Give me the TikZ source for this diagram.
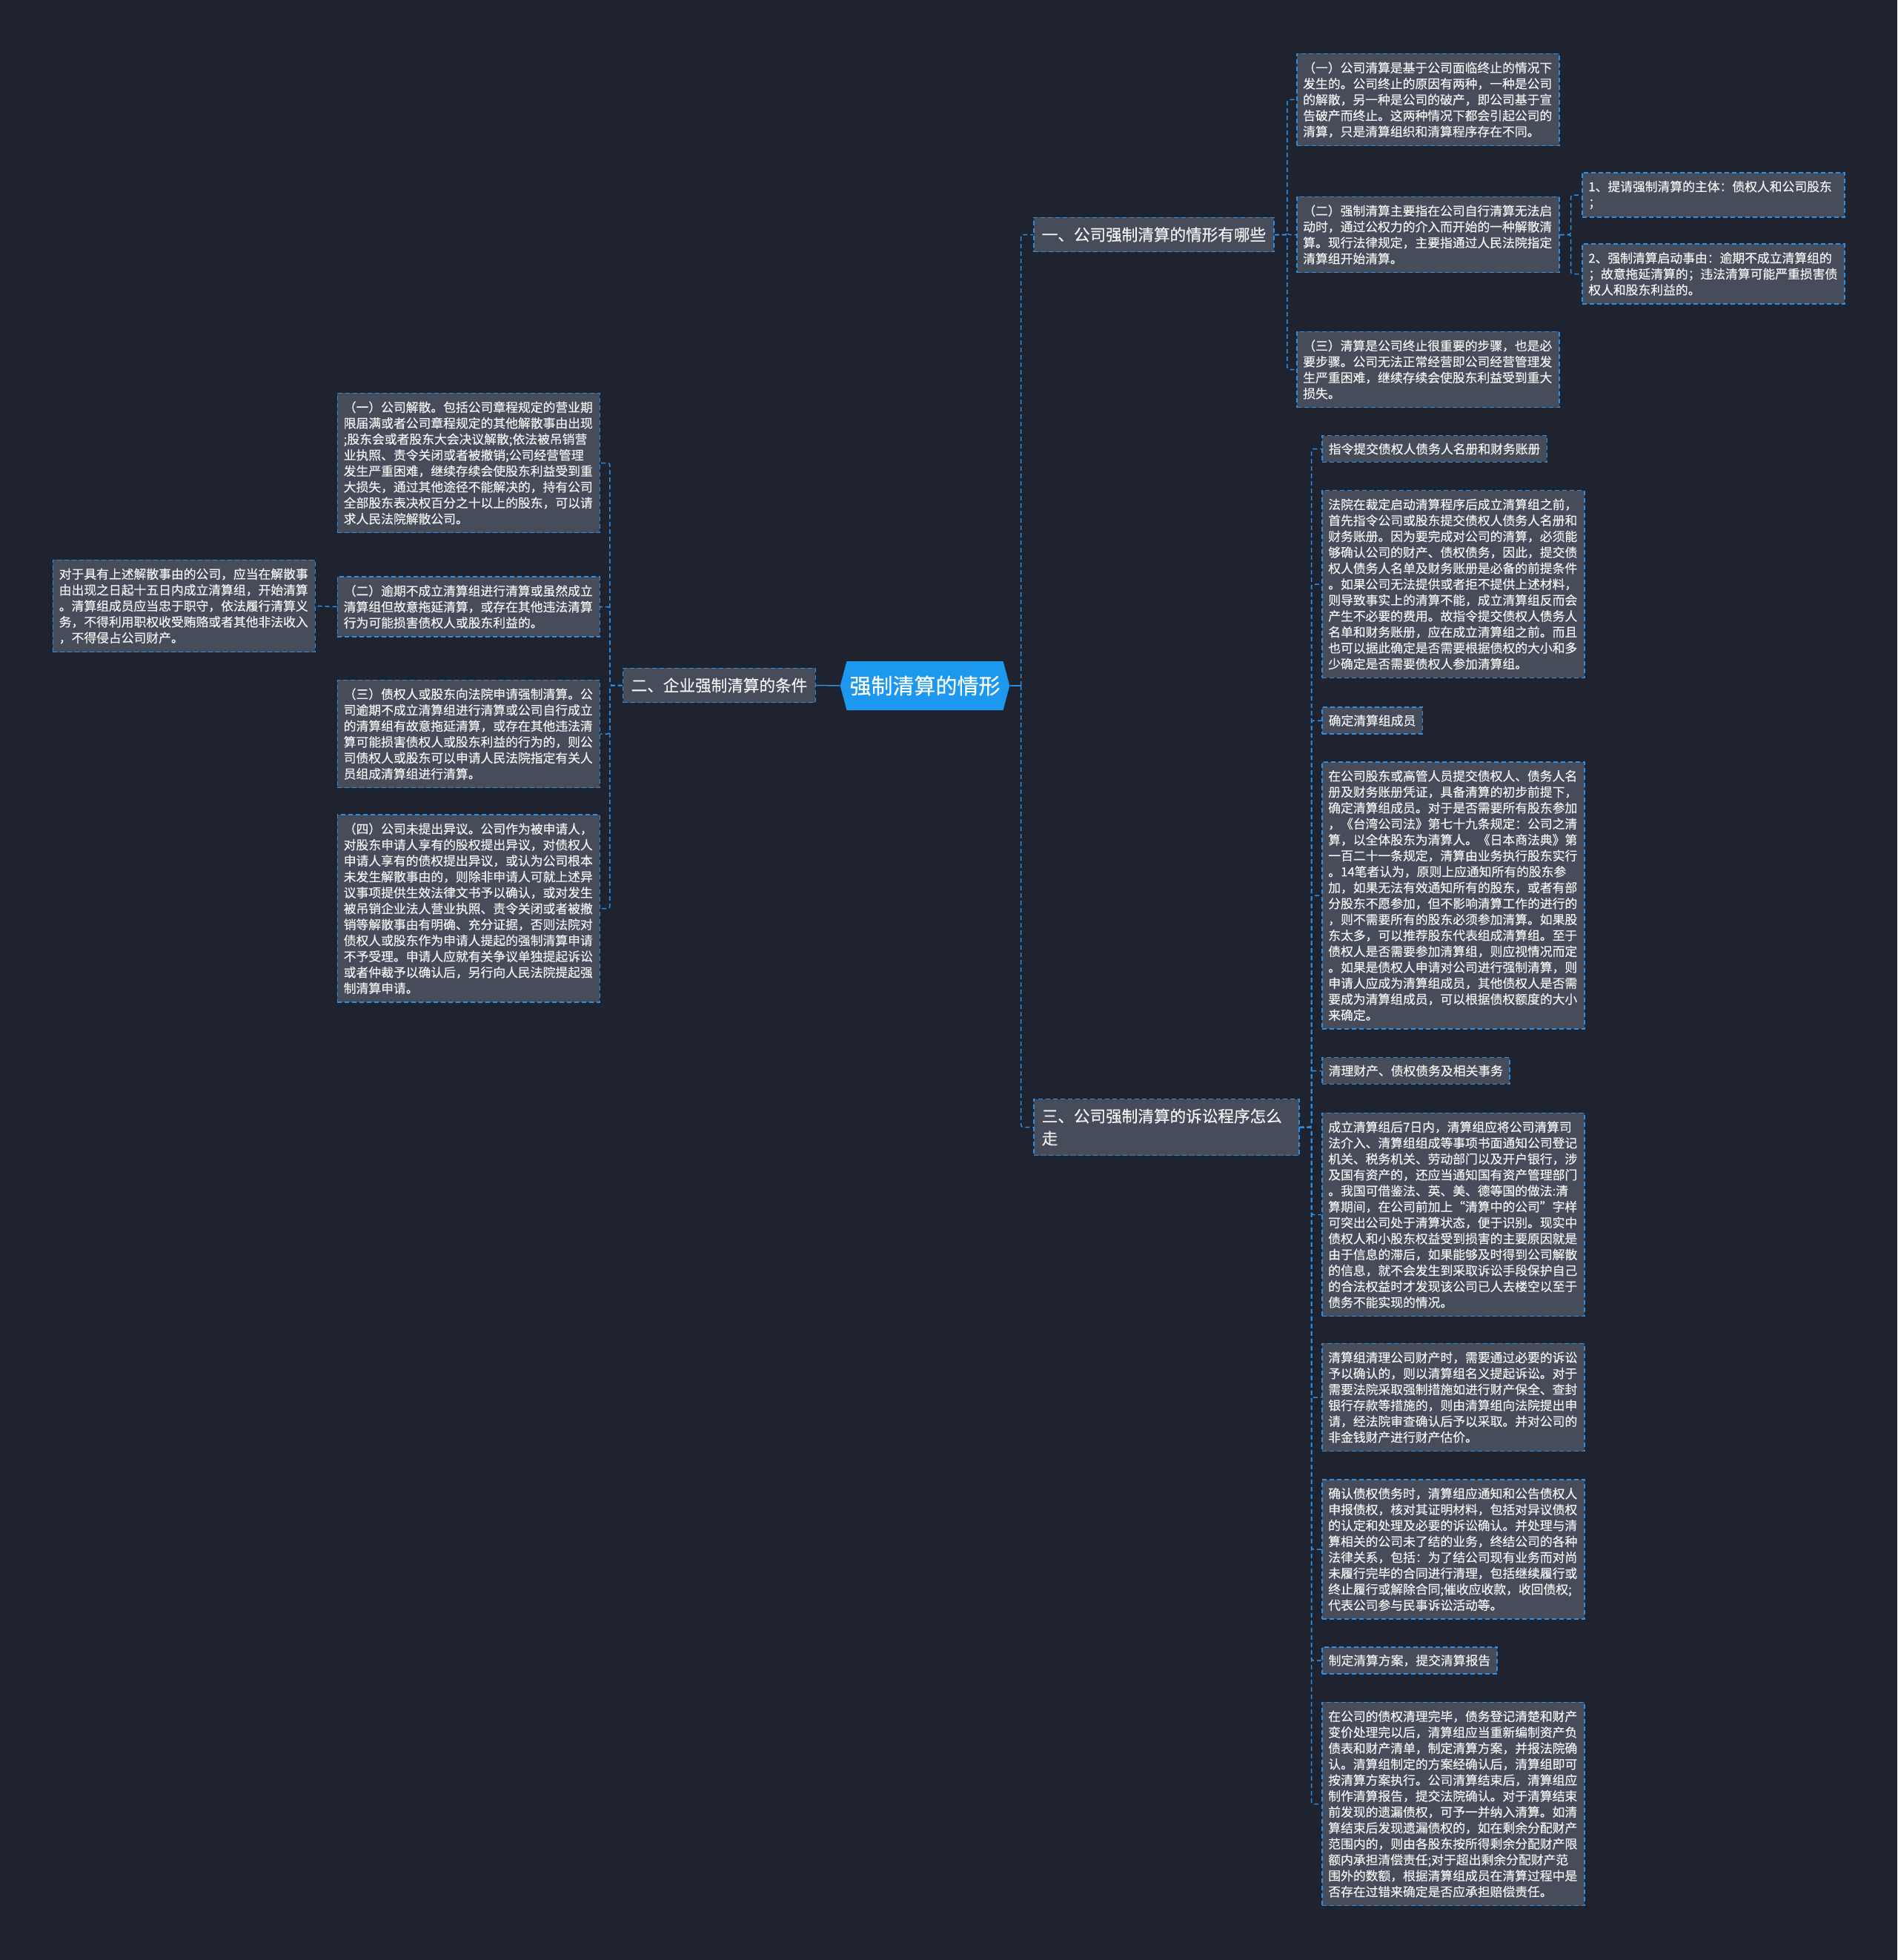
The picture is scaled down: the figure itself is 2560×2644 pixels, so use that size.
\documentclass[tikz,border=0pt]{standalone}
\usepackage{fontspec}
\setmainfont{Noto Sans CJK SC}[FakeBold=0.4]
\usepackage{tikz}
\usetikzlibrary{positioning}
\usetikzlibrary{shapes.symbols}

\definecolor{bgdark}{HTML}{1F2330}
\definecolor{boxfill}{HTML}{464C5A}
\definecolor{linkblue}{HTML}{2B8DE3}
\definecolor{rootblue}{HTML}{1C98EE}
\definecolor{textwhite}{HTML}{F2F2F2}

\begin{document}
\begin{tikzpicture}[
            x=1pt, y=-1pt,
            rootnode/.style={signal, signal to=east and west, signal pointer angle=150, fill=rootblue, text=white, font=\fontsize{29}{34}\selectfont, minimum height=66pt, inner xsep=4pt, inner ysep=0pt},
            branchnode/.style={rectangle, draw=linkblue, fill=boxfill, dash pattern=on 6pt off 4pt, line width=1.5pt, text=textwhite, font=\fontsize{21.6}{30}\selectfont, inner xsep=11pt, inner ysep=13pt},
            textnode/.style={rectangle, draw=linkblue, fill=boxfill, dash pattern=on 6pt off 4pt, line width=1.5pt, text=textwhite, font=\fontsize{16.8}{21.5}\selectfont, align=left, text width=337pt, inner xsep=8.5pt, inner ysep=11pt},
            labelnode/.style={rectangle, draw=linkblue, fill=boxfill, dash pattern=on 6pt off 4pt, line width=1.5pt, text=textwhite, font=\fontsize{16.8}{21.5}\selectfont, inner xsep=9pt, inner ysep=10pt, anchor=west},
            link/.style={draw=linkblue, line width=1.5pt, dash pattern=on 6pt off 4pt, rounded corners=3pt},
            rootlink/.style={draw=linkblue, line width=1.5pt},
        ]
            \useasboundingbox (0,0) rectangle (2560,2644);
            \fill[bgdark] (0,0) rectangle (2560,2644);

            % Nodes
            \node[rootnode] (maintopic) at (1248,925) {强制清算的情形};
            \node[branchnode, anchor=west] (topicone) at (1394,316.5) {一、公司强制清算的情形有哪些};
            \node[branchnode, anchor=east] (topictwo) at (1101,924.5) {二、企业强制清算的条件};
            \node[branchnode, anchor=west, align=left, text width=336pt, font=\fontsize{21.6}{30}\selectfont] (topicthree) at (1394,1520.5) {三、公司强制清算的诉讼程序怎么\\走};

            % first branch
            \node[textnode, anchor=west] (onea) at (1749,134.5) {（一）公司清算是基于公司面临终止的情况下\\发生的。公司终止的原因有两种，一种是公司\\的解散，另一种是公司的破产，即公司基于宣\\告破产而终止。这两种情况下都会引起公司的\\清算，只是清算组织和清算程序存在不同。};
            \node[textnode, anchor=west] (oneb) at (1749,316.5) {（二）强制清算主要指在公司自行清算无法启\\动时，通过公权力的介入而开始的一种解散清\\算。现行法律规定，主要指通过人民法院指定\\清算组开始清算。};
            \node[textnode, anchor=west] (onec) at (1749,498.5) {（三）清算是公司终止很重要的步骤，也是必\\要步骤。公司无法正常经营即公司经营管理发\\生严重困难，继续存续会使股东利益受到重大\\损失。};
            \node[textnode, anchor=west] (onebone) at (2134,263) {1、提请强制清算的主体：债权人和公司股东\\；};
            \node[textnode, anchor=west] (onebtwo) at (2134,369.5) {2、强制清算启动事由：逾期不成立清算组的\\；故意拖延清算的；违法清算可能严重损害债\\权人和股东利益的。};

            % second branch
            \node[textnode, anchor=east] (twoa) at (810,624.5) {（一）公司解散。包括公司章程规定的营业期\\限届满或者公司章程规定的其他解散事由出现\\;股东会或者股东大会决议解散;依法被吊销营\\业执照、责令关闭或者被撤销;公司经营管理\\发生严重困难，继续存续会使股东利益受到重\\大损失，通过其他途径不能解决的，持有公司\\全部股东表决权百分之十以上的股东，可以请\\求人民法院解散公司。};
            \node[textnode, anchor=east] (twob) at (810,818.5) {（二）逾期不成立清算组进行清算或虽然成立\\清算组但故意拖延清算，或存在其他违法清算\\行为可能损害债权人或股东利益的。};
            \node[textnode, anchor=east] (twoc) at (810,990) {（三）债权人或股东向法院申请强制清算。公\\司逾期不成立清算组进行清算或公司自行成立\\的清算组有故意拖延清算，或存在其他违法清\\算可能损害债权人或股东利益的行为的，则公\\司债权人或股东可以申请人民法院指定有关人\\员组成清算组进行清算。};
            \node[textnode, anchor=east] (twod) at (810,1225.5) {（四）公司未提出异议。公司作为被申请人，\\对股东申请人享有的股权提出异议，对债权人\\申请人享有的债权提出异议，或认为公司根本\\未发生解散事由的，则除非申请人可就上述异\\议事项提供生效法律文书予以确认，或对发生\\被吊销企业法人营业执照、责令关闭或者被撤\\销等解散事由有明确、充分证据，否则法院对\\债权人或股东作为申请人提起的强制清算申请\\不予受理。申请人应就有关争议单独提起诉讼\\或者仲裁予以确认后，另行向人民法院提起强\\制清算申请。};
            \node[textnode, anchor=east] (twobone) at (426,817.5) {对于具有上述解散事由的公司，应当在解散事\\由出现之日起十五日内成立清算组，开始清算\\。清算组成员应当忠于职守，依法履行清算义\\务，不得利用职权收受贿赂或者其他非法收入\\，不得侵占公司财产。};

            % third branch
            \node[labelnode] (threea) at (1783,605.5) {指令提交债权人债务人名册和财务账册};
            \node[textnode, anchor=west] (threeb) at (1783,788) {法院在裁定启动清算程序后成立清算组之前，\\首先指令公司或股东提交债权人债务人名册和\\财务账册。因为要完成对公司的清算，必须能\\够确认公司的财产、债权债务，因此，提交债\\权人债务人名单及财务账册是必备的前提条件\\。如果公司无法提供或者拒不提供上述材料，\\则导致事实上的清算不能，成立清算组反而会\\产生不必要的费用。故指令提交债权人债务人\\名单和财务账册，应在成立清算组之前。而且\\也可以据此确定是否需要根据债权的大小和多\\少确定是否需要债权人参加清算组。};
            \node[labelnode] (threec) at (1783,972) {确定清算组成员};
            \node[textnode, anchor=west] (threed) at (1783,1208) {在公司股东或高管人员提交债权人、债务人名\\册及财务账册凭证，具备清算的初步前提下，\\确定清算组成员。对于是否需要所有股东参加\\，《台湾公司法》第七十九条规定：公司之清\\算，以全体股东为清算人。《日本商法典》第\\一百二十一条规定，清算由业务执行股东实行\\。14笔者认为，原则上应通知所有的股东参\\加，如果无法有效通知所有的股东，或者有部\\分股东不愿参加，但不影响清算工作的进行的\\，则不需要所有的股东必须参加清算。如果股\\东太多，可以推荐股东代表组成清算组。至于\\债权人是否需要参加清算组，则应视情况而定\\。如果是债权人申请对公司进行强制清算，则\\申请人应成为清算组成员，其他债权人是否需\\要成为清算组成员，可以根据债权额度的大小\\来确定。};
            \node[labelnode] (threee) at (1783,1444.5) {清理财产、债权债务及相关事务};
            \node[textnode, anchor=west] (threef) at (1783,1638.5) {成立清算组后7日内，清算组应将公司清算司\\法介入、清算组组成等事项书面通知公司登记\\机关、税务机关、劳动部门以及开户银行，涉\\及国有资产的，还应当通知国有资产管理部门\\。我国可借鉴法、英、美、德等国的做法:清\\算期间，在公司前加上“清算中的公司”字样\\可突出公司处于清算状态，便于识别。现实中\\债权人和小股东权益受到损害的主要原因就是\\由于信息的滞后，如果能够及时得到公司解散\\的信息，就不会发生到采取诉讼手段保护自己\\的合法权益时才发现该公司已人去楼空以至于\\债务不能实现的情况。};
            \node[textnode, anchor=west] (threeg) at (1783,1885) {清算组清理公司财产时，需要通过必要的诉讼\\予以确认的，则以清算组名义提起诉讼。对于\\需要法院采取强制措施如进行财产保全、查封\\银行存款等措施的，则由清算组向法院提出申\\请，经法院审查确认后予以采取。并对公司的\\非金钱财产进行财产估价。};
            \node[textnode, anchor=west] (threeh) at (1783,2090) {确认债权债务时，清算组应通知和公告债权人\\申报债权，核对其证明材料，包括对异议债权\\的认定和处理及必要的诉讼确认。并处理与清\\算相关的公司未了结的业务，终结公司的各种\\法律关系，包括：为了结公司现有业务而对尚\\未履行完毕的合同进行清理，包括继续履行或\\终止履行或解除合同;催收应收款，收回债权;\\代表公司参与民事诉讼活动等。};
            \node[labelnode] (threei) at (1783,2240) {制定清算方案，提交清算报告};
            \node[textnode, anchor=west] (threej) at (1783,2433.5) {在公司的债权清理完毕，债务登记清楚和财产\\变价处理完以后，清算组应当重新编制资产负\\债表和财产清单，制定清算方案，并报法院确\\认。清算组制定的方案经确认后，清算组即可\\按清算方案执行。公司清算结束后，清算组应\\制作清算报告，提交法院确认。对于清算结束\\前发现的遗漏债权，可予一并纳入清算。如清\\算结束后发现遗漏债权的，如在剩余分配财产\\范围内的，则由各股东按所得剩余分配财产限\\额内承担清偿责任;对于超出剩余分配财产范\\围外的数额，根据清算组成员在清算过程中是\\否存在过错来确定是否应承担赔偿责任。};

            % Lines
            \draw[rootlink] (maintopic.east) -- ++(15,0) coordinate (roottrunk);
            \draw[rootlink] (maintopic.west) -- (topictwo.east);
            \foreach \child in {topicone, topicthree}
                \draw[link] (roottrunk) |- (\child.west);
            \foreach \child in {onea, oneb, onec}
                \draw[link] (topicone.east) -- ++(17,0) |- (\child.west);
            \foreach \child in {onebone, onebtwo}
                \draw[link] (oneb.east) -- ++(15,0) |- (\child.west);
            \foreach \child in {twoa, twob, twoc, twod}
                \draw[link] (topictwo.west) -- ++(-17,0) |- (\child.east);
            \draw[link] (twob.west) -- (twobone.east);
            \foreach \child in {threea, threeb, threec, threed, threee, threef, threeg, threeh, threei, threej}
                \draw[link] (topicthree.east) -- ++(16,0) |- (\child.west);
        \end{tikzpicture}
\end{document}
